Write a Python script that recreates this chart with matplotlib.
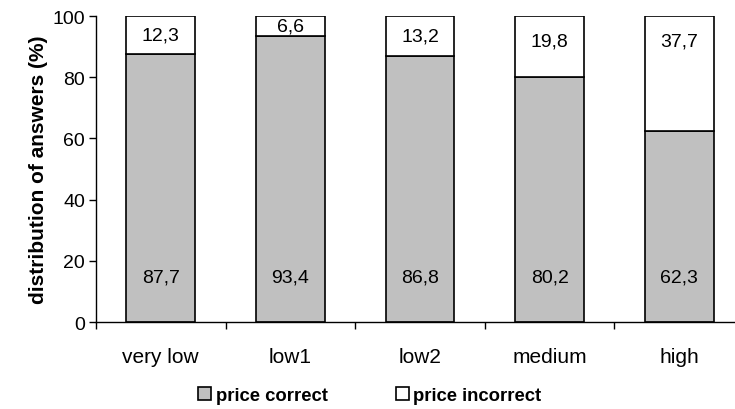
import matplotlib
matplotlib.use("Agg")
import matplotlib.pyplot as plt
import numpy as np

plt.rcParams['font.family'] = ['Liberation Sans', 'DejaVu Sans']

categories = ['very low', 'low1', 'low2', 'medium', 'high']
correct = [87.7, 93.4, 86.8, 80.2, 62.3]
incorrect = [12.3, 6.6, 13.2, 19.8, 37.7]


def fmt(v):
    return f"{v:.1f}".replace('.', ',')


fig = plt.figure(figsize=(7.35, 4.1), dpi=100)
ax = fig.add_axes([0.1306, 0.212, 0.8816, 0.7465])

x = np.arange(len(categories))
w = 0.53
b1 = ax.bar(x, correct, w, color='#c0c0c0', edgecolor='black', linewidth=1.2,
            label='price correct')
b2 = ax.bar(x, incorrect, w, bottom=correct, color='white', edgecolor='black',
            linewidth=1.2, label='price incorrect')

for xi, c, i in zip(x, correct, incorrect):
    ax.text(xi, 14.7, fmt(c), ha='center', va='center', fontsize=14)
    # small top segments get a centred label, larger ones keep it near the top
    ytop = c + i / 2 if i < 15 else 91.7
    ax.text(xi, ytop, fmt(i), ha='center', va='center', fontsize=14)

ax.set_xlim(-0.5, len(categories) - 0.5)
ax.set_ylim(0, 100)
ax.set_yticks([0, 20, 40, 60, 80, 100])
ax.set_xticks(np.arange(-0.5, len(categories), 1.0))
ax.set_xticklabels([])
ax.set_xticks(x, minor=True)
ax.set_xticklabels(categories, minor=True)
ax.tick_params(axis='x', which='major', length=5, width=1, direction='out')
ax.tick_params(axis='x', which='minor', length=0, pad=18, labelsize=15)
ax.tick_params(axis='y', length=5, width=1, labelsize=14, pad=3)
for s in ['top', 'right']:
    ax.spines[s].set_visible(False)
for s in ['left', 'bottom']:
    ax.spines[s].set_linewidth(1.0)

ax.set_ylabel('distribution of answers (%)', fontsize=15, fontweight='bold',
              labelpad=3)

fig.legend(handles=[b1, b2], loc='center', bbox_to_anchor=(0.503, 0.032),
           ncol=2, frameon=False, handlelength=0.7, handleheight=0.7,
           handletextpad=0.25, columnspacing=3.7,
           prop={'weight': 'bold', 'size': 13.3})

fig.savefig('out.png', dpi=100)
